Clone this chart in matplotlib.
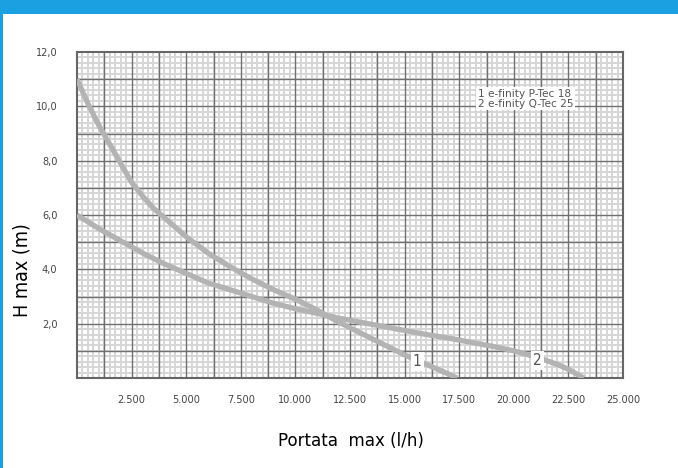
import numpy as np
import matplotlib.pyplot as plt
from matplotlib.ticker import MultipleLocator, FixedLocator
from matplotlib.patches import Rectangle

plt.rcParams['font.family'] = ['DejaVu Sans']

# curve 1 - e-finity P-Tec 18
q1 = [0, 500, 1000, 1500, 2000, 2500, 3000, 3500, 4000, 5000, 6000, 7000, 8000,
      9000, 10000, 11000, 12000, 13000, 14000, 15000, 16000, 17000, 17400]
h1 = [11.0, 10.1, 9.3, 8.6, 7.9, 7.2, 6.7, 6.25, 5.9, 5.2, 4.6, 4.1, 3.65,
      3.25, 2.9, 2.5, 2.05, 1.65, 1.25, 0.85, 0.5, 0.15, 0.0]

# curve 2 - e-finity Q-Tec 25
q2 = [0, 1000, 2000, 3000, 4000, 5000, 6000, 7000, 8000, 9000, 10000, 11000,
      12000, 13000, 14000, 15000, 16000, 17000, 18000, 19000, 20000, 21000,
      22000, 22500, 23200]
h2 = [6.0, 5.5, 5.05, 4.6, 4.2, 3.85, 3.5, 3.25, 3.0, 2.75, 2.55, 2.38,
      2.2, 2.05, 1.9, 1.75, 1.6, 1.47, 1.32, 1.17, 1.0, 0.78,
      0.5, 0.32, 0.0]

x_ticks = [2500, 5000, 7500, 10000, 12500, 15000, 17500, 20000, 22500, 25000]
x_labels = ['2.500', '5.000', '7.500', '10.000', '12.500', '15.000',
            '17.500', '20.000', '22.500', '25.000']
y_ticks = [2, 4, 6, 8, 10, 12]
y_labels = ['2,0', '4,0', '6,0', '8,0', '10,0', '12,0']
legend_lines = ['1 e-finity P-Tec 18', '2 e-finity Q-Tec 25']

fig = plt.figure(figsize=(6.78, 4.68), dpi=100)
ax = fig.add_axes([77 / 678, 1 - 378 / 468, 546 / 678, 326 / 468])

ax.set_xlim(0, 25000)
ax.set_ylim(0, 12)

# grid paper
ax.xaxis.set_minor_locator(MultipleLocator(250))
ax.yaxis.set_minor_locator(MultipleLocator(0.2))
ax.grid(which='minor', color='#d6d6d6', linewidth=1.4)
for x in np.arange(1250, 25000, 1250):
    ax.axvline(x, color='#707070', linewidth=1.0, zorder=1)
for y in np.arange(1, 12, 1):
    ax.axhline(y, color='#707070', linewidth=1.0, zorder=1)
ax.set_axisbelow(True)

ax.plot(q1, h1, color='#b3b3b3', linewidth=3.8, solid_capstyle='butt',
        solid_joinstyle='round', zorder=3)
ax.plot(q2, h2, color='#b3b3b3', linewidth=3.8, solid_capstyle='butt',
        solid_joinstyle='round', zorder=3)

ax.text(15570, 0.62, '1', fontsize=11, color='#555555', ha='center', va='center',
        fontstretch='condensed', zorder=4,
        bbox=dict(facecolor='white', edgecolor='none', pad=1.5))
ax.text(21100, 0.65, '2', fontsize=11, color='#555555', ha='center', va='center',
        fontstretch='condensed', zorder=4,
        bbox=dict(facecolor='white', edgecolor='none', pad=1.5))

ax.text(18350, 10.65, '\n'.join(legend_lines), fontsize=7.6, color='#555555',
        ha='left', va='top', linespacing=1.05,
        zorder=4, bbox=dict(facecolor='white', edgecolor='none', pad=1))

ax.xaxis.set_major_locator(FixedLocator(x_ticks))
ax.set_xticklabels(x_labels)
ax.yaxis.set_major_locator(FixedLocator(y_ticks))
ax.set_yticklabels(y_labels)
ax.tick_params(which='both', length=0, labelcolor='#444444')
ax.tick_params(axis='x', pad=12)
ax.tick_params(axis='y', pad=14)
for lbl in ax.get_xticklabels() + ax.get_yticklabels():
    lbl.set_fontsize(7.8)
    lbl.set_fontstretch('condensed')

for s in ax.spines.values():
    s.set_color('#666666')
    s.set_linewidth(1.5)

fig.text(22 / 678, 1 - 270 / 468, 'H max (m)', rotation=90, fontsize=14,
         fontstretch='condensed', ha='center', va='center', color='black')
fig.text(351 / 678, 1 - 441 / 468, 'Portata  max (l/h)', fontsize=13.3,
         fontstretch='condensed', ha='center', va='center', color='black')

# blue frame
fig.patches.append(Rectangle((0, 1 - 14 / 468), 1, 14 / 468, transform=fig.transFigure,
                             facecolor='#1ba1e2', edgecolor='none'))
fig.patches.append(Rectangle((0, 0), 3 / 678, 1, transform=fig.transFigure,
                             facecolor='#1ba1e2', edgecolor='none'))

fig.savefig('out.png', dpi=100)
